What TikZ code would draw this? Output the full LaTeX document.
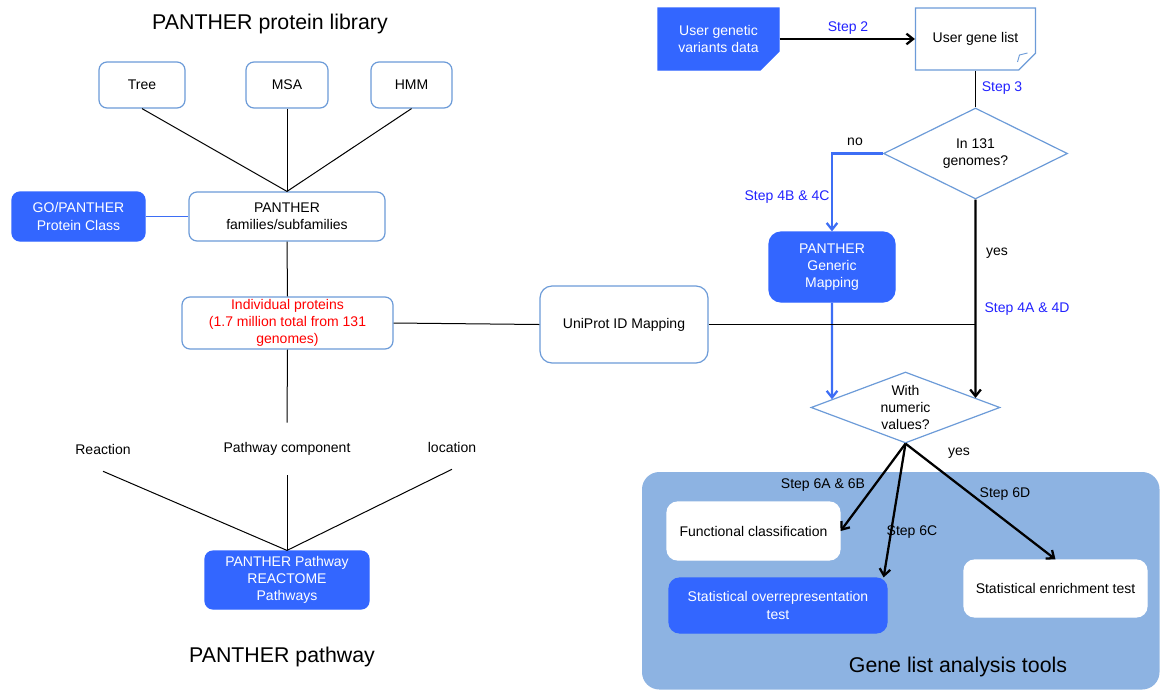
\documentclass[tikz,border=0pt]{standalone}
\usepackage{fontspec}
\setmainfont{Liberation Sans}
\usepackage{xcolor}
\usepackage{tikz}
\usetikzlibrary{shapes.geometric,shapes.misc,arrows.meta,calc}

\definecolor{boxline}{RGB}{108,155,216}
\definecolor{fillblue}{RGB}{51,102,255}
\definecolor{steptext}{RGB}{34,34,255}
\definecolor{panelblue}{RGB}{141,179,226}
\definecolor{flowblue}{RGB}{61,110,245}

\tikzset{
  box/.style={draw=boxline, line width=0.9pt, rounded corners=6pt, fill=white, align=center, inner sep=0.75pt, font=\fontsize{10.5}{13}\selectfont},
  bluebox/.style={box, draw=fillblue, fill=fillblue, text=white},
  note/.style={chamfered rectangle, chamfered rectangle corners=south east, chamfered rectangle xsep=7pt, chamfered rectangle ysep=7pt, draw=boxline, line width=0.9pt, fill=white, align=center, inner sep=0.75pt, font=\fontsize{10.5}{13}\selectfont},
  bluenote/.style={note, draw=fillblue, fill=fillblue, text=white},
  query/.style={diamond, aspect=2.6, draw=boxline, line width=0.9pt, fill=white, align=center, inner sep=0pt, font=\fontsize{10.5}{13}\selectfont},
  tag/.style={inner sep=0.75pt, font=\fontsize{10.5}{13}\selectfont},
  steptag/.style={tag, text=steptext},
  lbl/.style={tag, inner sep=0pt, minimum height=33pt},
  title/.style={inner sep=0.75pt, font=\fontsize{16}{19}\selectfont},
  thin/.style={line width=0.75pt},
  arr/.style={line width=1.7pt, -{Straight Barb[length=5pt,width=8pt]}},
  bluearr/.style={arr, draw=flowblue}
}

\begin{document}
\begin{tikzpicture}[x=0.75pt,y=0.75pt,yscale=-1,xscale=1]
	\useasboundingbox (0,0) rectangle (1160,690);
	
	%Rounded Rect: analysis tools panel
	\fill [panelblue, rounded corners=13pt] (642,472) rectangle (1159.5,689.5);
	
	% Text Node
	\draw (270,24) node [title] (libtitle) {PANTHER protein library};
	% Text Node
	\draw (142,85) node [box, minimum width=64.5pt, minimum height=34.5pt] (tree) {Tree};
	% Text Node
	\draw (287,85) node [box, minimum width=61.5pt, minimum height=34.5pt] (msa) {MSA};
	% Text Node
	\draw (411.5,85) node [box, minimum width=60.75pt, minimum height=34.5pt] (hmm) {HMM};
	% Text Node
	\draw (287,216.5) node [box, minimum width=147pt, minimum height=36.75pt] (fam) {PANTHER\\families/subfamilies};
	% Text Node
	\draw (78.5,216.5) node [bluebox, minimum width=99.75pt, minimum height=36.75pt] (gocls) {GO/PANTHER\\Protein Class};
	% Text Node
	\draw (287.5,323) node [box, text=red, minimum width=158.25pt, minimum height=39pt] (indiv) {Individual proteins\\(1.7 million total from 131\\genomes)};
	% Text Node
	\draw (624,324.5) node [box, rounded corners=9pt, minimum width=126pt, minimum height=57.75pt] (uniprot) {UniProt ID Mapping};
	% Text Node
	\draw (103,449) node [lbl] (reaction) {Reaction};
	% Text Node
	\draw (287,449) node [lbl, minimum height=39pt] (pcomp) {Pathway component};
	% Text Node
	\draw (452,447) node [lbl] (location) {location};
	% Text Node
	\draw (287,580) node [bluebox, minimum width=123pt, minimum height=43.5pt] (pathway) {PANTHER Pathway\\REACTOME\\Pathways};
	% Text Node
	\draw (282,657) node [title] (pwtitle) {PANTHER pathway};
	
	% Text Node
	\draw (718.5,39) node [bluenote, minimum width=90.75pt, minimum height=46.5pt] (uvar) {User genetic\\variants data};
	% Text Node
	\draw (975.5,39) node [note, minimum width=90pt, minimum height=46.5pt] (ulist) {User gene list};
	% Text Node
	\draw (975.5,153.5) node [query, minimum width=138pt, minimum height=68.25pt] (in131) {In 131\\genomes?};
	% Text Node
	\draw (832,267) node [bluebox, rounded corners=9pt, minimum width=94.5pt, minimum height=52.5pt] (pgm) {PANTHER\\Generic\\Mapping};
	% Text Node
	\draw (905.5,407.5) node [query, minimum width=141.75pt, minimum height=53.25pt] (numval) {With\\numeric\\values?};
	% Text Node
	\draw (753.5,531) node [box, draw=white, rounded corners=8pt, minimum width=129.75pt, minimum height=43.5pt] (funccls) {Functional classification};
	% Text Node
	\draw (778,605.5) node [bluebox, rounded corners=8pt, minimum width=163.5pt, minimum height=41.25pt] (overrep) {Statistical overrepresentation\\test};
	% Text Node
	\draw (1055.5,588.5) node [box, draw=white, rounded corners=8pt, minimum width=137.25pt, minimum height=42.75pt] (enrich) {Statistical enrichment test};
	% Text Node
	\draw (958,667) node [title] (tooltitle) {Gene list analysis tools};
	
	%Straight Lines
	\draw [thin] (tree.south) -- (fam.north);
	\draw [thin] (msa.south) -- (fam.north);
	\draw [thin] (hmm.south) -- (fam.north);
	\draw [line width=1.3pt, flowblue] (gocls.east) -- (fam.west);
	\draw [thin] (fam.south) -- (indiv.north);
	\draw [thin] (indiv.east) -- (uniprot.west);
	\draw [thin] (indiv.south) -- (pcomp.north);
	\draw [thin] (reaction.south) -- (pathway.north);
	\draw [thin] (pcomp.south) -- (pathway.north);
	\draw [thin] (location.south) -- (pathway.north);
	
	%Folded corner of the notes
	\draw [boxline, line width=0.7pt] ($(ulist.south east)+(-10,0)$) -- ($(ulist.south east)+(-8,-7)$) -- ($(ulist.south east)+(0,-9)$);
	
	%Arrows
	\draw [arr] (uvar.east) -- (ulist.west);
	\draw [thin] (ulist.south) -- (in131.north);
	\draw [bluearr] (in131.west) -| (pgm.north);
	\draw [bluearr] (pgm.south) -- (intersection of pgm.south--pgm.north and numval.west--numval.north);
	\draw [arr] (in131.south) -- (intersection of in131.south--in131.north and numval.north--numval.east);
	\draw [thin] (uniprot.east) -- (uniprot.east -| in131.south);
	\draw [arr] (numval.south) -- (funccls.east);
	\draw [arr] (numval.south) -- ([xshift=-3pt]overrep.north east);
	\draw [arr] (numval.south) -- (enrich.north);
	
	% Text Node
	\draw (848,28) node [steptag] (step2) {Step 2};
	% Text Node
	\draw (1002,88) node [steptag] (step3) {Step 3};
	% Text Node
	\draw (855,142) node [tag] (no) {no};
	% Text Node
	\draw (787,197) node [steptag] (step4bc) {Step 4B \& 4C};
	% Text Node
	\draw (997,253) node [tag] (yesa) {yes};
	% Text Node
	\draw (1027,309) node [steptag] (step4ad) {Step 4A \& 4D};
	% Text Node
	\draw (959,453) node [tag] (yesb) {yes};
	% Text Node
	\draw (823,485) node [tag] (step6ab) {Step 6A \& 6B};
	% Text Node
	\draw (912,532) node [tag] (step6c) {Step 6C};
	% Text Node
	\draw (1005,494) node [tag] (step6d) {Step 6D};
\end{tikzpicture}
\end{document}
